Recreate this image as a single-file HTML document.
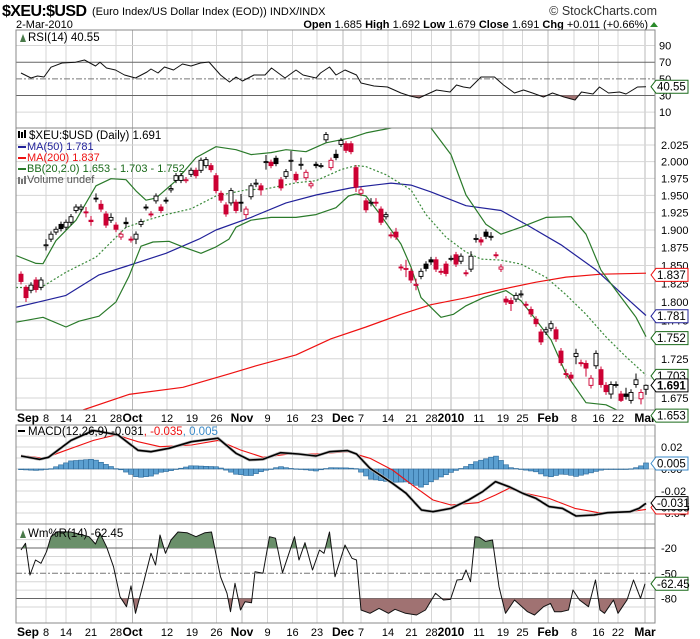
<!DOCTYPE html>
<html><head><meta charset="utf-8"><style>
html,body{margin:0;padding:0;background:#fff;}
svg{display:block;font-family:"Liberation Sans",Arial,sans-serif;}
</style></head><body>
<svg id="chart" width="700" height="639" viewBox="0 0 700 639" xmlns="http://www.w3.org/2000/svg">
<defs>
<clipPath id="cRsi"><rect x="16" y="30" width="639" height="98"/></clipPath>
<clipPath id="cMain"><rect x="16" y="128" width="639" height="282"/></clipPath>
<clipPath id="cMacd"><rect x="16" y="425" width="639" height="99"/></clipPath>
<clipPath id="cWr"><rect x="16" y="524" width="639" height="99"/></clipPath>
<clipPath id="cRsiLow"><rect x="16" y="95.5" width="639" height="32"/></clipPath>
<clipPath id="cWrHi"><rect x="16" y="524" width="639" height="24"/></clipPath>
<clipPath id="cWrLo"><rect x="16" y="598.6" width="639" height="25"/></clipPath>
</defs>
<text x="2" y="16" font-size="16" font-weight="bold" letter-spacing="-0.6">$XEU:$USD</text>
<text x="92" y="15" font-size="11">(Euro Index/US Dollar Index (EOD))  INDX/INDX</text>
<text x="657" y="15" font-size="12.5" text-anchor="end" fill="#333">© StockCharts.com</text>
<text x="16" y="28" font-size="11">2-Mar-2010</text>
<text x="648" y="28" font-size="11" text-anchor="end"><tspan font-weight="bold">Open</tspan> 1.685 <tspan font-weight="bold">High</tspan> 1.692 <tspan font-weight="bold">Low</tspan> 1.679 <tspan font-weight="bold">Close</tspan> 1.691 <tspan font-weight="bold">Chg</tspan> +0.011 (+0.66%)</text>
<polygon points="650,27 654,22 658,27" fill="#2a8a2a"/>
<g id="layer"></g>
</svg>
<script>
// ---------- price data ----------
const opens=[1.838,1.820,1.816,1.830,1.820,1.878,1.887,1.897,1.908,1.904,1.911,1.928,1.930,1.926,1.914,1.946,1.937,1.923,1.914,1.907,1.890,1.911,1.887,1.887,1.908,1.933,1.923,1.942,1.933,1.943,1.958,1.972,1.972,1.972,1.981,1.987,1.987,1.994,1.994,1.979,1.953,1.936,1.939,1.940,1.940,1.922,1.948,1.968,1.964,2.000,1.999,2.005,1.973,1.978,2.002,1.981,1.996,1.976,1.964,1.996,1.994,2.033,1.991,2.011,2.026,2.027,2.027,1.991,1.953,1.942,1.940,1.940,1.930,1.919,1.893,1.897,1.848,1.846,1.842,1.824,1.835,1.852,1.858,1.858,1.842,1.852,1.860,1.865,1.856,1.840,1.845,1.888,1.886,1.897,1.891,1.865,1.845,1.804,1.802,1.804,1.811,1.797,1.790,1.777,1.760,1.760,1.765,1.763,1.735,1.706,1.704,1.728,1.720,1.719,1.691,1.716,1.711,1.691,1.680,1.692,1.680,1.680,1.672,1.692,1.674,1.686];
const closes=[1.828,1.806,1.823,1.817,1.830,1.879,1.894,1.901,1.902,1.911,1.919,1.933,1.933,1.925,1.912,1.945,1.930,1.907,1.918,1.901,1.894,1.909,1.886,1.894,1.912,1.932,1.922,1.949,1.928,1.942,1.960,1.979,1.979,1.973,1.987,1.979,2.002,2.003,1.988,1.957,1.943,1.923,1.957,1.928,1.939,1.930,1.964,1.968,1.958,2.000,1.994,1.997,1.961,1.985,2.002,1.973,1.996,1.984,1.967,1.994,1.994,2.041,2.002,2.006,2.032,2.017,2.015,1.962,1.958,1.929,1.940,1.939,1.911,1.922,1.892,1.890,1.847,1.846,1.830,1.824,1.842,1.846,1.855,1.845,1.841,1.839,1.860,1.852,1.863,1.839,1.863,1.888,1.883,1.891,1.891,1.864,1.848,1.800,1.798,1.809,1.811,1.796,1.784,1.771,1.747,1.763,1.771,1.751,1.720,1.705,1.700,1.732,1.719,1.713,1.700,1.732,1.692,1.683,1.692,1.692,1.672,1.677,1.682,1.698,1.682,1.691];
const highs=[1.842,1.823,1.827,1.834,1.834,1.887,1.898,1.905,1.912,1.915,1.923,1.937,1.937,1.933,1.920,1.953,1.943,1.927,1.924,1.911,1.898,1.918,1.891,1.898,1.916,1.937,1.927,1.953,1.937,1.947,1.965,1.983,1.983,1.977,1.991,1.991,2.006,2.007,1.998,1.983,1.957,1.940,1.961,1.944,1.952,1.934,1.968,1.974,1.968,2.010,2.003,2.009,1.977,1.989,2.016,1.985,2.006,1.988,1.971,2.000,1.998,2.045,2.006,2.018,2.036,2.031,2.031,1.995,1.962,1.946,1.946,1.946,1.934,1.926,1.897,1.903,1.852,1.858,1.846,1.832,1.846,1.856,1.862,1.862,1.846,1.856,1.864,1.869,1.867,1.844,1.870,1.894,1.890,1.901,1.897,1.869,1.852,1.808,1.806,1.813,1.816,1.801,1.794,1.781,1.764,1.767,1.775,1.767,1.739,1.712,1.708,1.738,1.724,1.723,1.704,1.736,1.715,1.695,1.696,1.696,1.684,1.688,1.686,1.706,1.686,1.692];
const lows=[1.824,1.800,1.812,1.813,1.816,1.871,1.883,1.893,1.898,1.900,1.907,1.924,1.926,1.918,1.906,1.940,1.926,1.903,1.910,1.897,1.886,1.903,1.882,1.880,1.904,1.928,1.918,1.938,1.924,1.938,1.954,1.968,1.968,1.968,1.977,1.975,1.983,1.990,1.984,1.953,1.939,1.919,1.935,1.924,1.926,1.916,1.944,1.962,1.950,1.988,1.990,1.993,1.957,1.974,1.986,1.969,1.988,1.972,1.960,1.990,1.990,2.029,1.987,2.002,2.022,2.013,2.011,1.955,1.949,1.925,1.934,1.934,1.907,1.915,1.888,1.886,1.843,1.834,1.826,1.816,1.831,1.842,1.851,1.841,1.837,1.835,1.856,1.848,1.852,1.835,1.841,1.882,1.878,1.887,1.885,1.860,1.841,1.796,1.788,1.800,1.806,1.792,1.780,1.767,1.743,1.756,1.761,1.747,1.716,1.700,1.696,1.718,1.715,1.702,1.687,1.712,1.688,1.679,1.674,1.688,1.670,1.673,1.668,1.688,1.667,1.679];
// ---------- overlay lines (bar index, value) ----------
const ma50Idx=[-1,4.4,9,15.6,22.4,29,35.6,39,46,53,59,66,74,78,82,89,96,101,108,115,121,125];
const ma50Val=[1.793,1.8015,1.809,1.837,1.852,1.867,1.887,1.900,1.918,1.939,1.9505,1.961,1.968,1.965,1.955,1.935,1.928,1.908,1.879,1.844,1.806,1.782];
const ma200Idx=[8,12.4,21.6,32.4,41.6,47,55,62,69,76,82,89,96,103,109,116,125];
const ma200Val=[1.652,1.660,1.6795,1.6885,1.7055,1.7159,1.730,1.751,1.7666,1.7835,1.7965,1.8058,1.817,1.827,1.834,1.838,1.8394];
const bbUpIdx=[-1,3,4.4,7,11,15,18,21,23,25,27,31,35,39,43,46,50,53,57,61,66,69,74,78,82,86,89,93,96,100,105,110,113,116,119,123,125];
const bbUpVal=[1.864,1.853,1.8525,1.885,1.914,1.964,1.9745,1.973,1.9565,1.943,1.946,1.9715,2.006,2.0225,2.018,2.0105,2.0135,2.018,2.015,2.0285,2.036,2.0435,2.051,2.057,2.051,2.0105,1.9505,1.908,1.894,1.904,1.918,1.919,1.894,1.8436,1.8157,1.7796,1.754];
const bbMidIdx=[-1,4,9,15,21,25,29,34,39,45,49,55,59,64,67,69,73,78,81,85,89,92,96,100,105,109,113,117,121,125];
const bbMidVal=[1.8198,1.8198,1.8408,1.8618,1.9038,1.9136,1.922,1.9304,1.949,1.958,1.9595,1.9685,1.9715,1.988,1.994,1.9925,1.9805,1.958,1.922,1.8898,1.8688,1.859,1.8576,1.852,1.8338,1.810,1.7835,1.7536,1.7276,1.704];
const bbLoIdx=[-1,4.4,9,11.6,15.6,19,21.6,24,26.4,29.6,32.4,36,39,41.6,43,46,50,55,59,63,65.5,67,69,72,76,78,80,84,86.5,89,92.5,97,100,102.6,106,109,113,117,120,124,125];
const bbLoVal=[1.773,1.7796,1.7666,1.7744,1.781,1.8002,1.8352,1.877,1.883,1.884,1.876,1.867,1.876,1.887,1.904,1.914,1.918,1.918,1.922,1.932,1.949,1.952,1.949,1.9206,1.880,1.848,1.806,1.7796,1.7835,1.795,1.806,1.8156,1.8017,1.7796,1.7497,1.7055,1.6691,1.6665,1.6574,1.655,1.653];
// ---------- RSI(14) ----------
const rsiIdx=[0,2,3.3,4.6,6,8.2,10.9,12.7,14.9,15.8,17.1,18.9,20.7,22.9,25.2,26,27.4,28.7,30.5,32.3,34,35.9,37.6,39.9,41.7,43,44.3,46.6,48.8,50.1,52.8,55,56.4,59,59.9,61.7,63,64.8,67.1,68,70.6,73.3,76,77.8,79.6,80.9,83.1,85.8,87.1,88.5,89.8,92,94.7,96.5,98.7,100.5,102.3,104.5,106.3,108.6,110.8,112.1,114.4,115.7,117.5,119.7,121,123.3,125];
const rsiVal=[57,51,53.4,52.2,64,69,70,72.6,65.4,70,63,60.6,54.6,51,58.2,61.8,57,64.2,60.6,67.8,65.4,69,70.2,54.6,46.2,52.2,47.4,54.6,54.6,63,51,60.6,54.6,51,57,64.2,54.6,60.6,54.6,45,41.4,40.2,33,29.4,27,30.6,36.6,34.2,42.6,40.2,39,52.2,52.2,42.6,33,36.6,33,28.2,33,28.2,24.6,34.2,31.8,40.2,33,34.2,31.8,40.2,40.55];
// ---------- MACD(12,26,9) ----------
const macdIdx=[0,3.7,5.5,10,14.5,19.4,23.4,26,29.6,34.1,39.4,43,45.7,48.4,51.9,55.5,59,61.7,65.3,67.1,69.8,74.3,77,80.1,82.4,86,89.5,92.3,94.9,97.6,100.3,103,105.6,108.3,111,114.6,117.3,121.8,123.6,125];
const macdVal=[0.0118,0.0088,0.0106,0.026,0.035,0.031,0.017,0.0157,0.0188,0.0248,0.028,0.0143,0.0082,0.0088,0.0148,0.0136,0.0118,0.0157,0.0167,0.0136,0.0006,-0.013,-0.022,-0.0373,-0.0388,-0.0358,-0.0282,-0.0206,-0.0115,-0.0161,-0.022,-0.0267,-0.0342,-0.0358,-0.0427,-0.0418,-0.0397,-0.0388,-0.0358,-0.0312];
const sigIdx=[0,4.6,8.2,14.5,19,23.4,27.8,34.1,39.4,43.9,48.4,53.7,59,65.3,69.8,74.3,78.7,82.4,86,91.4,94.9,97.6,100.3,105.6,110.8,115.5,121.8,125];
const sigVal=[0.0124,0.0097,0.0157,0.026,0.031,0.0248,0.0203,0.0218,0.026,0.0173,0.0106,0.0136,0.0136,0.0157,0.0097,-0.0009,-0.0161,-0.0282,-0.0327,-0.0306,-0.0236,-0.0176,-0.0215,-0.0267,-0.0358,-0.0397,-0.0388,-0.0367];
// ---------- Williams %R(14) ----------
const wrIdx=[0,0.9,1.8,2.9,4,5.1,6,7.3,10,13.6,14.9,15.8,17.1,18.5,19.8,21.1,22,22.9,24.3,26,26.9,27.8,28.9,30,31.4,33.2,35,36.8,38.1,39.9,41.2,41.9,42.8,43.9,44.8,46.1,46.8,48.4,49.7,50.9,52.3,54.7,55.6,56.8,58.3,59.7,60.6,61.7,62.8,64.8,66.2,67.1,68,69.8,71.6,73.5,74.8,76.9,79.1,80.9,82.9,84.5,85.9,87.2,88.2,89,89.9,90.8,91.7,92.9,94.3,95.6,96.9,98.7,101.3,102.7,104.5,105.9,106.7,108.1,109.5,110.4,111.7,113.5,114.9,115.8,116.7,118.5,119.4,121.2,122.5,123.9,124.8,125.5];
const wrVal=[-22.3,-14.4,-52,-34.2,-38.1,-24.3,-6.5,-0.6,-1,-6.5,-15.2,-2.5,-18.4,-42.2,-77.8,-89.7,-65,-97.5,-65.9,-26.2,-40.1,-4.5,-26.2,-10.5,-1,-1.8,-6.5,-1.8,-1,-54,-73.8,-95.6,-61.9,-93.6,-83.8,-85,-48.1,-49.9,-6.5,-8.3,-49.3,-6.5,-34.2,-13.7,-46.1,-22.3,-26.2,-1,-54,-16.4,-32.2,-34.2,-93.6,-97.5,-91.7,-97.5,-92.8,-97.5,-99.5,-93.6,-73.8,-81.7,-81,-58,-57.4,-46.1,-60,-6.5,-7.3,-12.1,-10.5,-65.9,-97.5,-81.7,-95.6,-99.5,-89.7,-85.8,-95.6,-95.6,-93.6,-69.8,-81.7,-89.7,-58,-93.6,-97.5,-81.7,-97.5,-81.7,-58,-79.7,-62.45];
// ---------- axes ----------
const dateIdx=[0,5,9,14,19,22.3,29.2,34.2,39.1,44.2,49.3,54.3,59.2,64.4,68,73.4,78.1,82.1,86,91.6,96.4,100.3,105.4,110.6,115.5,119.4,124.8];
const dateLabels=['Sep','8','14','21','28','Oct','12','19','26','Nov','9','16','23','Dec','7','14','21','28','2010','11','19','25','Feb','8','16','22','Mar'];
const priceTicks=[2.025,2.000,1.975,1.950,1.925,1.900,1.875,1.850,1.825,1.800,1.775,1.750,1.725,1.700,1.675];
const rsiTicks=[90,70,50,30,10];
const macdTicks=[0.02,0.00,-0.02,-0.04];
const macdTickLabels=['0.02','0.00','-0.02','-0.04'];
const wrTicks=[-20,-50,-80];

const NS='http://www.w3.org/2000/svg';
const layer=document.getElementById('layer');
function mk(tag,attrs,parent){const e=document.createElementNS(NS,tag);for(const k in attrs)e.setAttribute(k,attrs[k]);(parent||layer).appendChild(e);return e;}
const L=16,R=655;
const X=i=>21+5*i;
const Ym=p=>398-1333*Math.log(p/1.675);
const Yr=v=>120.5-0.833*v;
const Yd=v=>469-1100*v;
const Yw=v=>531.2-0.842*v;
const MONTHS=['Sep','Oct','Nov','Dec','2010','Feb','Mar'];

function gEl(name,clip){const g=mk('g',clip?{'clip-path':'url(#'+clip+')'}:{});
return g;}
function vgrid(g,top,bot){dateIdx.forEach((d,k)=>{if(k===0)return;const m=MONTHS.includes(dateLabels[k]);
const ln=mk('line',{x1:X(d),x2:X(d),y1:top,y2:bot,stroke:m?'#b8b8b8':'#d6d6d6','stroke-width':1},g);

});}
function hline(g,y,color,dash){const ln=mk('line',{x1:L,x2:R,y1:y,y2:y,stroke:color,'stroke-width':1,'stroke-dasharray':dash||'none'},g);

return ln;}
function poly(g,idx,val,yf,color,w,dash,name){const pts=idx.map((d,k)=>X(d).toFixed(1)+','+yf(val[k]).toFixed(1)).join(' ');
const p=mk('polyline',{points:pts,fill:'none',stroke:color,'stroke-width':w,'stroke-dasharray':dash||'none','stroke-linejoin':'round'},g);

return p;}
function areaFill(g,idx,val,yf,base,color,clip,name){let d='M'+X(idx[0])+','+yf(base);idx.forEach((q,k)=>{d+=' L'+X(q).toFixed(1)+','+yf(val[k]).toFixed(1);});
d+=' L'+X(idx[idx.length-1])+','+yf(base)+' Z';const p=mk('path',{d:d,fill:color,'clip-path':'url(#'+clip+')'},g);

}
function label(x,y,txt,opts,name){const t=mk('text',Object.assign({x:x,y:y,'font-size':11},opts||{}));t.textContent=txt;

return t;}
function frame(top,bot,name){const r=mk('rect',{x:L,y:top,width:R-L,height:bot-top,fill:'none',stroke:'#888','stroke-width':1});

}
function tag(y,txt,color,bold,name){const g=mk('g',{});

mk('path',{d:`M651,${y} L656,${y-6.5} L688,${y-6.5} L688,${y+6.5} L656,${y+6.5} Z`,fill:'#fff',stroke:color,'stroke-width':1},g);
const t=mk('text',{x:657,y:y+4,'font-size':11.5,'font-weight':bold?'bold':'normal',fill:'#000'},g);t.textContent=txt;}
function interp(idx,val,i){if(i<=idx[0])return val[0];for(let k=1;k<idx.length;k++){if(i<=idx[k]){const f=(i-idx[k-1])/(idx[k]-idx[k-1]);return val[k-1]+f*(val[k]-val[k-1]);}}return val[val.length-1];}

// ===== RSI panel =====
const gR=gEl('rsi-panel','cRsi');
vgrid(gR,30,128);
[90,10].forEach(v=>hline(gR,Yr(v),'#d6d6d6'));
hline(gR,Yr(70),'#666');hline(gR,Yr(30),'#666');hline(gR,Yr(50),'#777','6,2,2,2');
areaFill(gR,rsiIdx,rsiVal,Yr,30,'#a07272','cRsiLow','rsi-oversold-fill');
poly(gR,rsiIdx,rsiVal,Yr,'#111',1,null,'rsi-line');
frame(30,128,'rsi-frame');
rsiTicks.forEach(v=>label(659,Yr(v)+4,String(v),{},'rsi-tick-label'));
const ri=mk('path',{d:'M20,42 L23,34 L26,42 Z',fill:'#4a7a4a'});

label(28,41,'RSI(14) 40.55',{'font-size':11.5},'rsi-title');

// ===== Main panel =====
const gM=gEl('price-panel','cMain');
vgrid(gM,128,410);
priceTicks.forEach(p=>hline(gM,Ym(p),'#d6d6d6'));
poly(gM,ma200Idx,ma200Val,Ym,'#ee1111',1.2,null,'ma200-line');
poly(gM,ma50Idx,ma50Val,Ym,'#22229a',1.2,null,'ma50-line');
poly(gM,bbUpIdx,bbUpVal,Ym,'#2a7a2a',1.2,null,'bb-upper-line');
poly(gM,bbLoIdx,bbLoVal,Ym,'#2a7a2a',1.2,null,'bb-lower-line');
poly(gM,bbMidIdx,bbMidVal,Ym,'#3a8a3a',1.2,'2,2','bb-middle-line');
for(let i=0;i<closes.length;i++){
 const x=X(i),o=opens[i],c=closes[i];
 const prev=i>0?closes[i-1]:o;
 const col=c<prev?'#cc0033':'#000';
 const w=mk('line',{x1:x,x2:x,y1:Ym(highs[i]),y2:Ym(lows[i]),stroke:col,'stroke-width':1},gM);
 
 
 const yt=Ym(Math.max(o,c)),yb=Ym(Math.min(o,c));
 const b=mk('rect',{x:x-2,y:yt,width:4,height:Math.max(1,yb-yt),fill:c<o?col:'#fff',stroke:col,'stroke-width':0.9},gM);
 
 
}
frame(128,410,'price-frame');
priceTicks.forEach(p=>label(661,Ym(p)+4,p.toFixed(3),{},'price-tick-label'));
// legend
const lg=mk('g',{});

mk('rect',{x:18,y:131,width:2,height:7,fill:'#000'},lg);mk('rect',{x:21,y:132,width:2,height:6,fill:'#000'},lg);mk('rect',{x:24,y:130,width:2,height:8,fill:'#000'},lg);
label(29,139,'$XEU:$USD (Daily) 1.691',{'font-size':11.5},'legend-symbol');
mk('rect',{x:18,y:146,width:8,height:2,fill:'#22229a'},lg);
label(27,150,'MA(50) 1.781',{'font-size':11,fill:'#22229a'},'legend-ma50');
mk('rect',{x:18,y:157,width:8,height:2,fill:'#ee1111'},lg);
label(27,161,'MA(200) 1.837',{'font-size':11,fill:'#ee1111'},'legend-ma200');
mk('rect',{x:18,y:168,width:8,height:2,fill:'#2a7a2a'},lg);
label(27,172,'BB(20,2.0) 1.653 - 1.703 - 1.752',{'font-size':11,fill:'#1a6a1a'},'legend-bb');
mk('rect',{x:18,y:177,width:2,height:7,fill:'#777'},lg);mk('rect',{x:21,y:179,width:2,height:5,fill:'#777'},lg);mk('rect',{x:24,y:176,width:2,height:8,fill:'#777'},lg);
label(27,183,'Volume undef',{'font-size':11,fill:'#555'},'legend-volume');

// ===== date axes =====
function dateAxis(y,name){dateIdx.forEach((d,k)=>{const m=MONTHS.includes(dateLabels[k]);
 if(k===0){label(17,y,dateLabels[k],{'font-size':12,'font-weight':'bold'},name);return;}
 label(X(d),y,dateLabels[k],{'font-size':m?12:11,'font-weight':m?'bold':'normal','text-anchor':'middle'},name);});}
dateAxis(422,'price-date-label');

// ===== MACD panel =====
const gD=gEl('macd-panel','cMacd');
vgrid(gD,425,524);
[0.03,0.02,0.01,0,-0.01,-0.02,-0.03,-0.04].forEach(v=>hline(gD,Yd(v),'#d6d6d6'));
for(let i=0;i<closes.length;i++){
 const h=interp(macdIdx,macdVal,i)-interp(sigIdx,sigVal,i);
 const y0=Yd(0),y1=Yd(h);
 const r=mk('rect',{x:X(i)-2.5,y:Math.min(y0,y1),width:5,height:Math.max(0.5,Math.abs(y1-y0)),fill:'#5b9fd0',stroke:'#2d6a9a','stroke-width':0.6},gD);
 
 
}
poly(gD,sigIdx,sigVal,Yd,'#ee1111',1.1,null,'macd-signal-line');
poly(gD,macdIdx,macdVal,Yd,'#bbb',3,null,'macd-line-shadow');
poly(gD,macdIdx,macdVal,Yd,'#000',1.6,null,'macd-line');
frame(425,524,'macd-frame');
macdTicks.forEach((v,k)=>label(661,Yd(v)+4,macdTickLabels[k],{},'macd-tick-label'));
const mi=mk('rect',{x:18,y:430,width:7,height:2,fill:'#000'});


const mt=label(28,435,'',{'font-size':11.5},'macd-title');
mt.innerHTML='MACD(12,26,9) -0.031<tspan fill="#ee1111">, -0.035</tspan><tspan fill="#3a8ac8">, 0.005</tspan>';

// ===== Williams %R panel =====
const gW=gEl('williams-panel','cWr');
vgrid(gW,524,623);
[-10,-30,-40,-60,-70,-90].forEach(v=>hline(gW,Yw(v),'#d6d6d6'));
hline(gW,Yw(-20),'#666');hline(gW,Yw(-80),'#666');hline(gW,Yw(-50),'#777','6,2,2,2');
areaFill(gW,wrIdx,wrVal,Yw,-20,'#6a8f6a','cWrHi','wr-overbought-fill');
areaFill(gW,wrIdx,wrVal,Yw,-80,'#a07272','cWrLo','wr-oversold-fill');
poly(gW,wrIdx,wrVal,Yw,'#111',1,null,'williams-line');
frame(524,623,'williams-frame');
wrTicks.forEach(v=>label(661,Yw(v)+4,String(v),{},'williams-tick-label'));
const wi=mk('path',{d:'M20,538 L23,530 L26,538 Z',fill:'#4a7a4a'});

label(28,537,'Wm%R(14) -62.45',{'font-size':11.5},'williams-title');
dateAxis(636,'bottom-date-label');

// ===== value tags =====
tag(Yr(40.55),'40.55','#1a6a1a',false,'rsi-value-tag');
tag(Ym(1.837),'1.837','#ee1111',false,'ma200-value-tag');
tag(Ym(1.781),'1.781','#22229a',false,'ma50-value-tag');
tag(Ym(1.752),'1.752','#1a6a1a',false,'bb-upper-tag');
tag(Ym(1.703),'1.703','#1a6a1a',false,'bb-middle-tag');
tag(Ym(1.691),'1.691','#000',true,'close-value-tag');
tag(Ym(1.653),'1.653','#1a6a1a',false,'bb-lower-tag');
tag(Yd(-0.035),'-0.035','#ee1111',false,'signal-value-tag');
tag(Yd(-0.031),'-0.031','#000',false,'macd-value-tag');
tag(Yd(0.005),'0.005','#3a8ac8',false,'histogram-value-tag');
tag(Yw(-62.45),'-62.45','#1a6a1a',false,'williams-value-tag');
</script>
</body></html>
